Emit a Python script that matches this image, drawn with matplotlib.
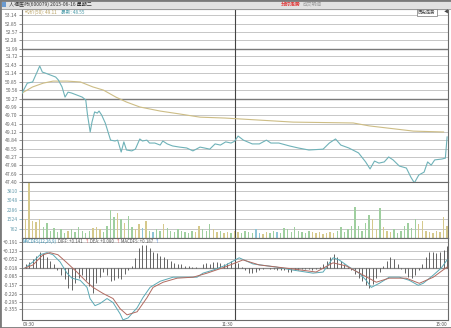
import numpy as np
import matplotlib
matplotlib.use("Agg")
import matplotlib.pyplot as plt
from matplotlib.patches import Rectangle

plt.rcParams['font.family'] = ['Noto Sans CJK SC', 'DejaVu Sans']

# 分时价格 (分钟, 价格)
price_min = [0, 3, 6, 8.5, 10, 11.5, 13, 16, 19, 20.5,
             22.6, 24.3, 26, 28, 31, 34, 36, 37, 38.5, 39.5,
             41, 42.5, 43.5, 45, 47, 50, 52.5, 54, 56, 57.5,
             59, 62, 64, 66.5, 68, 70.5, 72, 75, 78, 79.5,
             82, 85, 89, 93, 96.5, 100.5, 103, 106, 109, 112,
             115, 118, 120, 122, 125, 130, 134, 138, 140.5, 145,
             151, 156, 162, 170, 173.5, 177, 180, 184.5, 190, 194,
             196.5, 199, 201.5, 204.5, 207, 209.5, 213, 217, 219.5, 221.5,
             224, 227, 229, 231, 233, 237, 239, 240]
price = [50.46, 50.80, 50.84, 51.18, 51.39, 51.18, 51.15, 51.08, 51.01, 50.91,
         50.67, 50.32, 50.49, 50.46, 50.39, 50.32, 50.22, 49.70, 49.12, 49.46,
         49.81, 49.77, 49.84, 49.70, 49.43, 48.84, 48.81, 48.84, 48.43, 48.78,
         48.50, 48.47, 48.53, 48.88, 48.81, 48.84, 48.74, 48.74, 48.67, 48.81,
         48.71, 48.64, 48.60, 48.57, 48.47, 48.60, 48.57, 48.53, 48.71, 48.67,
         48.78, 48.74, 48.80, 48.98, 48.84, 48.71, 48.71, 48.84, 48.74, 48.74,
         48.64, 48.57, 48.50, 48.53, 48.74, 48.88, 48.67, 48.57, 48.40, 48.09,
         47.85, 48.12, 48.05, 48.09, 48.26, 48.16, 47.95, 47.88, 47.57, 47.37,
         47.64, 47.74, 48.09, 47.98, 48.16, 48.19, 48.22, 48.95]

# 均价线
avg_min = [0, 6, 12, 17.5, 25.5, 33, 40, 46, 53, 59,
           66.5, 78, 89, 100.5, 114.5, 153, 187, 196, 221, 238]
avg_price = [50.46, 50.67, 50.80, 50.87, 50.87, 50.84, 50.67, 50.56, 50.32, 50.15,
             49.98, 49.84, 49.74, 49.63, 49.60, 49.46, 49.43, 49.33, 49.15, 49.12]

# 成交量 (每2分钟)
volume = [1600, 1500, 4500, 1400, 1300, 1500, 900, 1200, 600, 800,
          500, 700, 400, 600, 700, 500, 900, 600, 400, 600,
          800, 900, 700, 500, 1000, 2300, 1700, 2000, 1500, 1200,
          1800, 900, 700, 1100, 800, 1400, 600, 500, 700, 600,
          1100, 800, 600, 500, 700, 600, 500, 400, 600, 500,
          1000, 700, 600, 1100, 700, 500, 600, 400, 500, 400,
          600, 500, 400, 600, 500, 400, 700, 400, 300, 500,
          400, 600, 500, 400, 800, 700, 500, 900, 600, 500,
          400, 600, 500, 400, 500, 300, 400, 500, 400, 600,
          900, 500, 700, 1000, 2500, 1000, 600, 1200, 1900, 1500,
          700, 2400, 900, 600, 500, 700, 400, 600, 1000, 1200,
          800, 1500, 1100, 1400, 600, 500, 400, 600, 500, 1700, 1000]

# MACD 柱 (每2分钟)
macd_hist = [0.01, 0.03, 0.05, 0.07, 0.10, 0.13, 0.11, 0.09, 0.06, 0.03,
             -0.02, -0.06, -0.09, -0.16, -0.18, -0.12, -0.08, -0.06, -0.10, -0.15,
             -0.20, -0.12, -0.07, -0.03, -0.06, -0.11, -0.10, -0.08, -0.09, -0.05,
             -0.02, 0.02, 0.08, 0.16, 0.19, 0.19, 0.16, 0.13, 0.12, 0.10,
             0.09, 0.07, 0.06, 0.04, 0.03, 0.03, 0.02, 0.02, 0.01, 0.005,
             0.0, 0.03, 0.04, 0.03, 0.05, 0.05, 0.04, 0.03, 0.04, 0.06,
             0.06, 0.04, 0.01, -0.02, -0.04, -0.04, -0.03, -0.02, -0.01, 0.0,
             -0.01, -0.01, -0.02, -0.02, -0.02, -0.03, -0.03, -0.02, -0.02, -0.01,
             -0.01, -0.01, -0.02, -0.01, 0.01, 0.03, 0.06, 0.09, 0.11, 0.09,
             0.06, 0.03, 0.01, -0.02, -0.05, -0.08, -0.11, -0.14, -0.16, -0.13,
             -0.08, -0.03, 0.02, 0.06, 0.09, 0.07, 0.03, -0.01, -0.04, -0.07,
             -0.08, -0.06, -0.02, 0.03, 0.09, 0.13, 0.13, 0.12, 0.13, 0.15, 0.18]

diff_min = [1.7, 6.2, 10.2, 14.1, 17.5, 21.5, 25.4, 28.2, 32.8, 36.7,
            38.4, 41.2, 44, 48, 51.4, 55.4, 57, 59.9, 65, 68.3,
            72.3, 78, 85.3, 93.2, 98.8, 102.2, 107.9, 114.6, 122.6, 130.4,
            143.4, 153, 164.3, 170, 175.6, 179, 184.7, 190.3, 194.3, 197.2,
            201.7, 207.3, 213, 218.6, 223.7, 226.5, 232.2, 236.7, 240]
diff = [0.0, 0.05, 0.108, 0.125, 0.108, 0.05, -0.042, -0.083, -0.10, -0.158,
        -0.249, -0.307, -0.29, -0.249, -0.282, -0.374, -0.423, -0.407, -0.324, -0.241,
        -0.158, -0.108, -0.075, -0.075, -0.075, -0.042, -0.017, 0.02, 0.083, 0.033,
        0.008, -0.017, -0.042, -0.033, 0.083, 0.066, 0.008, -0.042, -0.10, -0.158,
        -0.125, -0.075, -0.075, -0.10, -0.141, -0.125, -0.058, 0.0, 0.066]

dea_min = [1.7, 6.2, 11.9, 15.8, 20.3, 25.4, 31, 36.7, 40.1, 45.8,
           51.4, 55.4, 59.3, 65, 70.6, 74, 79.7, 87.6, 96.6, 104.5,
           114.6, 124.8, 133.9, 153, 166, 175.6, 183, 192.6, 200, 207.3,
           216.9, 224.3, 232.2, 240]
dea = [0.0, 0.025, 0.108, 0.125, 0.108, 0.042, -0.033, -0.116, -0.158, -0.208,
       -0.249, -0.332, -0.382, -0.357, -0.241, -0.158, -0.116, -0.083, -0.075, -0.042,
       0.008, 0.066, 0.025, -0.008, -0.033, 0.042, 0.017, -0.058, -0.116, -0.083,
       -0.083, -0.125, -0.075, 0.008]

price_ticks = [53.14, 52.85, 52.57, 52.28, 51.99, 51.72, 51.43, 51.14, 50.85, 50.56,
               50.27, 49.99, 49.70, 49.41, 49.12, 48.84, 48.55, 48.27, 47.98, 47.69, 47.40]
vol_ticks = [3810, 3048, 2286, 1524, 762]
macd_ticks = [0.191, 0.123, 0.052, -0.018, -0.085, -0.157, -0.226, -0.295, -0.355]
macd_zero = -0.018

W, H = 452, 328
fig = plt.figure(figsize=(W / 100, H / 100), dpi=100)
fig.patch.set_facecolor('white')
renderer = fig.canvas.get_renderer()


def box(x0, y0, x1, y1):
    return [x0 / W, 1 - y1 / H, (x1 - x0) / W, (y1 - y0) / H]


def fx(x):
    return x / W


def fy(y):
    return 1 - y / H


def chain(x, y, parts, size, gap=1.5):
    # 依次排列不同颜色的文字
    for s, c in parts:
        t = fig.text(fx(x), fy(y), s, fontsize=size, color=c, va='center')
        bb = t.get_window_extent(renderer)
        x = bb.x1 + gap


ax_p = fig.add_axes(box(22, 9, 448, 182))
ax_v = fig.add_axes(box(22, 182, 448, 238))
ax_m = fig.add_axes(box(22, 238, 448, 320))

for ax in (ax_p, ax_v, ax_m):
    ax.set_xlim(0, 240.5)
    ax.set_xticks([])
    for s in ax.spines.values():
        s.set_color('#6a6a6a')
        s.set_linewidth(0.8)
    ax.tick_params(axis='y', length=2, width=0.5, pad=1, labelsize=3.6,
                   colors='#666666')
    ax.axvline(120, color='#444444', lw=0.8, zorder=1)

# 价格区
ax_p.set_ylim(47.40, 53.35)
ax_p.set_yticks(price_ticks)
ax_p.set_yticklabels([f'{v:.2f}' for v in price_ticks])
for v in price_ticks:
    if v in (51.99, 50.27):
        ax_p.axhline(v, color='#7a7a7a', lw=1.0, zorder=0)
    else:
        ax_p.axhline(v, color='#c6c6c6', lw=0.7, zorder=0)
ax_p.plot(avg_min, avg_price, color='#cdbd85', lw=0.8, zorder=3)
ax_p.plot(price_min, price, color='#6fb2b8', lw=0.8, zorder=4)

# 成交量
t_bar = np.arange(len(volume)) * 2
p_now = np.interp(t_bar, price_min, price)
p_prev = np.interp(t_bar - 2, price_min, price)
bar_colors = ['#d5c98c' if a > b else '#9fcf9f' if a < b else '#8ec5d6'
              for a, b in zip(p_now, p_prev)]
ax_v.set_ylim(0, 4540)
ax_v.set_yticks(vol_ticks)
ax_v.set_yticklabels([str(v) for v in vol_ticks])
ax_v.tick_params(axis='y', colors='#6a9fb0')
for v in vol_ticks:
    ax_v.axhline(v, color='#c6c6c6', lw=0.7, zorder=0)
ax_v.bar(t_bar, volume, width=0.8, color=bar_colors, zorder=2)

# MACD
ax_m.set_ylim(-0.442, 0.2265)
ax_m.set_yticks(macd_ticks)
ax_m.set_yticklabels([f'{v:+.3f}' for v in macd_ticks])
for v in macd_ticks:
    ax_m.axhline(v, color='#8a8a8a' if v == macd_zero else '#c6c6c6',
                 lw=0.9 if v == macd_zero else 0.7, zorder=0)
t_hist = np.arange(len(macd_hist)) * 2
ax_m.vlines(t_hist, macd_zero, macd_zero + np.array(macd_hist),
            color='#4a4a4a', lw=0.6, zorder=2)
ax_m.plot(diff_min, macd_zero + np.array(diff), color='#5aa9b5', lw=0.7, zorder=3)
ax_m.plot(dea_min, macd_zero + np.array(dea), color='#b06a60', lw=0.7, zorder=3)

# 标题栏
fig.patches.append(Rectangle((0, fy(9)), 1, 9 / H, transform=fig.transFigure,
                             facecolor='#e2e2e2', edgecolor='#9a9a9a', lw=0.6))
fig.patches.append(Rectangle((fx(2), fy(7)), 4 / W, 5 / H, transform=fig.transFigure,
                             facecolor='#6b9bd1', edgecolor='none'))
fig.text(fx(9), fy(4.5), '人福医药(600079) 2015-06-16 星期二', fontsize=3.6,
         color='#333333', va='center')
fig.text(fx(291), fy(4.5), '分时走势', fontsize=3.6, color='#e03030',
         va='center', ha='center', fontweight='bold')
fig.text(fx(312), fy(4.5), '成交明细', fontsize=3.4, color='#999999', va='center',
         ha='center')
fig.text(fx(427), fy(12.5), '历史走势', fontsize=3.2, color='#444444', va='center',
         ha='center', bbox=dict(boxstyle='square,pad=0.2', fc='white',
                                ec='#777777', lw=0.5))
fig.text(fx(446), fy(12.5), '◀', fontsize=3.2, color='#444444', va='center',
         ha='center')

# 图例
chain(25, 12, [('均价(50): 49.11', '#b8a060'), ('最新: 48.55', '#4a9aa8')],
      3.4, gap=4)
chain(23, 241.5, [('MACDFS(12,26,9)', '#3a8fb0'), ('DIFF: +0.141', '#555555'),
                  ('↑', '#d03030'), ('DEA: +0.080', '#555555'), ('↑', '#d03030'),
                  ('MACDFS: +0.187', '#555555'), ('↑', '#3070d0')], 3.1, gap=1.5)

# 时间轴
fig.text(fx(23), fy(324), '09:30', fontsize=3.4, color='#555555', va='center')
fig.text(fx(233), fy(324), '11:30', fontsize=3.4, color='#555555', va='center',
         ha='right')
fig.text(fx(447), fy(324), '15:00', fontsize=3.4, color='#555555', va='center',
         ha='right')

fig.patches.append(Rectangle((0, 0), 1, 1, transform=fig.transFigure, fill=False,
                             edgecolor='#7a7a7a', lw=2))

fig.savefig('out.png', dpi=100)
